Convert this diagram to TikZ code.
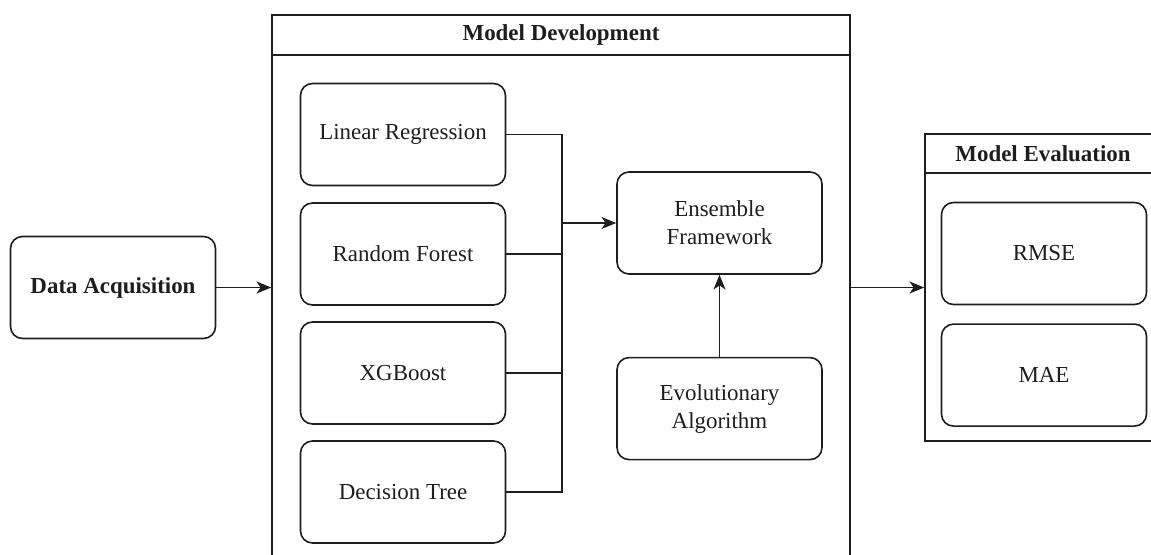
\documentclass[tikz,border=0pt]{standalone}
\usepackage{fontspec}
\setmainfont{LiberationSerif}[Extension=.ttf,UprightFont=*-Regular,BoldFont=*-Bold]
\usetikzlibrary{arrows.meta,positioning}
\definecolor{lineclr}{RGB}{30,30,30}
\tikzset{
  rblk/.style={rectangle,rounded corners=9pt,draw=lineclr,line width=1.2pt,fill=white,
    minimum width=153.75pt,minimum height=76.5pt,
    font=\fontsize{17.2}{21}\selectfont,align=center,text=lineclr,inner sep=4pt},
  lane/.style={rectangle,draw=lineclr,line width=1.2pt,inner sep=0pt},
  lanehdr/.style={rectangle,draw=lineclr,line width=1.2pt,inner sep=0pt,
    font=\fontsize{17.2}{21}\selectfont\bfseries,text=lineclr},
  arr/.style={-{Stealth[length=11pt,width=9pt,inset=3pt]},line width=1.2pt,color=lineclr},
  lnk/.style={line width=1.2pt,color=lineclr},
}
\begin{document}
\begin{tikzpicture}[x=0.75pt,y=-0.75pt]
  \useasboundingbox (0,0) rectangle (1151,554);
  \clip (0,0) rectangle (1151,554);

  %% Input
  \node[rblk,font=\fontsize{17.2}{21}\selectfont\bfseries] (acq) at (113,287.5) {Data Acquisition};

  %% Lane: model development
  \node[lane,minimum width=433.5pt,minimum height=416.25pt] (dev) at (561,292.5) {};
  \node[lanehdr,minimum width=433.5pt,minimum height=30pt,anchor=north] (devhdr) at (dev.north) {Model Development};
  \foreach \lbl/\nm/\y in {Linear Regression/lr/134.5,Random Forest/rf/254,
                           XGBoost/xgb/373,Decision Tree/dt/492}{
    \node[rblk] (\nm) at (403,\y) {\lbl};
  }
  \node[rblk] (ens) at (719.5,223) {Ensemble\\Framework};
  \node[rblk,below=61.5pt of ens] (evo) {Evolutionary\\Algorithm};

  %% Lane: model evaluation
  \node[lane,minimum width=177pt,minimum height=230.25pt] (eval) at (1043,287.5) {};
  \node[lanehdr,minimum width=177pt,minimum height=29.25pt,anchor=north] (evalhdr) at (eval.north) {Model Evaluation};
  \node[rblk] (rmse) at (1044,253.5) {RMSE};
  \node[rblk,below=13.5pt of rmse] (mae) {MAE};

  %% Merge of the base models
  \coordinate (jn) at (562,223);
  \draw[lnk] (lr.east) -| (jn);
  \draw[lnk] (dt.east) -| (jn);
  \foreach \nm in {rf,xgb}{
    \draw[lnk] (\nm.east) -- (\nm.east -| jn);
  }
  \draw[arr] (jn) -- (ens.west);
  \draw[arr] (evo.north) -- (ens.south);

  %% Stage arrows
  \draw[arr] (acq.east) -- (acq.east -| dev.west);
  \draw[arr] (eval.west -| dev.east) -- (eval.west);

\end{tikzpicture}
\end{document}
